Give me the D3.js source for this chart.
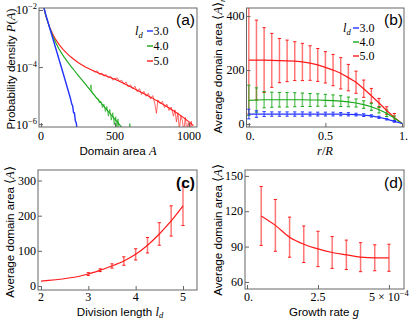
<!DOCTYPE html>
<html><head><meta charset="utf-8">
<script src="https://cdn.jsdelivr.net/npm/d3@7"></script>
<style>body{margin:0;background:#fff}svg{display:block}</style>
</head><body><svg id="c" width="415" height="322"></svg>
<script>
// ---------------- DATA ----------------
const ldLabels = ["3.0", "4.0", "5.0"];

// (a) probability density: [area A, log10 P(A)]
const distLd3 = [[12,-1.62],[20,-1.92],[30,-2.12],[40,-2.3],[60,-2.65],[80,-3.0],[100,-3.35],[120,-3.7],[140,-4.05],[160,-4.4],[180,-4.76],[200,-5.12],[208,-5.3],[214,-5.36],[220,-5.6],[226,-5.6],[232,-5.88],[238,-5.95],[246,-6.25]];
const distLd4 = [[12,-1.62],[20,-1.92],[30,-2.15],[40,-2.33],[60,-2.65],[80,-2.92],[100,-3.15],[120,-3.35],[140,-3.52],[160,-3.68],[180,-3.82],[200,-3.96],[225,-4.12],[250,-4.28],[275,-4.44],[300,-4.6],[325,-4.76],[350,-4.92],[375,-5.08],[400,-5.22],[425,-5.38],[450,-5.53],[475,-5.68],[500,-5.83],[525,-5.98],[550,-6.14]];
const distLd4Noisy = [[300,-4.6],[310,-4.66],[320,-4.72],[330,-4.8],[338,-4.62],[345,-4.88],[355,-4.95],[365,-5.0],[375,-5.1],[385,-5.1],[395,-5.26],[405,-5.2],[415,-5.42],[425,-5.3],[435,-5.56],[445,-5.38],[455,-5.72],[465,-5.48],[475,-5.86],[485,-5.6],[495,-6.02],[505,-5.74],[513,-6.2],[520,-5.82],[528,-6.25]];
const distLd4Tail = [[596,-6.25],[600,-5.98],[604,-6.25]];
const distLd5 = [[12,-1.62],[20,-1.92],[30,-2.15],[40,-2.33],[60,-2.62],[80,-2.85],[100,-3.04],[125,-3.23],[150,-3.39],[175,-3.52],[200,-3.64],[250,-3.84],[300,-4.0],[350,-4.12],[400,-4.23],[450,-4.33],[500,-4.43],[550,-4.55],[600,-4.68],[650,-4.81],[700,-4.94],[750,-5.08],[800,-5.23],[850,-5.38],[900,-5.55],[950,-5.72],[1000,-5.92],[1030,-6.05]];
const distLd5Noisy = [[350,-4.12],[365,-4.18],[380,-4.13],[395,-4.26],[410,-4.21],[425,-4.32],[440,-4.26],[455,-4.38],[470,-4.32],[485,-4.46],[500,-4.4],[515,-4.38],[530,-4.5],[545,-4.46],[560,-4.6],[575,-4.52],[590,-4.7],[605,-4.62],[620,-4.76],[635,-4.67],[650,-4.86],[665,-4.76],[680,-4.96],[695,-4.85],[710,-5.02],[725,-4.92],[740,-5.12],[755,-5.0],[770,-5.3],[780,-5.62],[790,-5.15],[805,-5.28],[820,-5.2],[835,-5.42],[850,-5.3],[865,-5.52],[880,-5.4],[895,-5.72],[905,-5.5],[915,-5.92],[925,-5.6],[935,-6.2],[945,-5.7],[955,-5.88],[965,-6.25],[975,-5.76],[985,-6.25],[995,-5.95],[1005,-6.25],[1015,-5.9],[1025,-6.25]];

// (b) radial profile
const rOverR = [0,0.05,0.1,0.15,0.2,0.25,0.3,0.35,0.4,0.45,0.5,0.55,0.6,0.65,0.7,0.75,0.8,0.85,0.9,0.95,1.0];
const radMeanLd3 = [37,37,37,37,37,37,37,37,37,37,37,37,36.5,36,35,33,30,25,18,10,2];
const radErrLd3  = [18,12,9,8,8,8,8,8,7,7,7,7,6,6,5,5,4,4,3,3,0];
const radMeanLd4 = [88,89,90,90,90,90,90,90,89,89,88,87,85,82,78,72,64,53,40,22,2];
const radErrLd4  = [56,45,30,28,27,27,26,25,24,23,22,21,20,18,15,14,13,12,12,8,0];
const radMeanLd5 = [237,237,237,236,235,234,233,230,226,219,210,200,188,172,155,131,105,78,50,24,2];
const radErrLd5  = [200,148,120,100,82,77,72,69,64,61,58,58,58,49,41,32,27,17,14,15,0];

// (c) vs division length
const divLength = [2,3,3.25,3.5,3.75,4,4.25,4.5,4.75,5];
const divMean   = [14,34,45,57,71,90,116,148,185,228];
const divErr    = [0,4,4,6,12,16,22,32,43,56];

// (d) vs growth rate (units of 1e-4)
const growthRate = [0.5,1,1.5,2,2.5,3,3.5,4,4.5,5];
const growthMean = [116,108,98,92,88,85,83,81,80.5,80.5];
const growthErr  = [25,22,17,15.5,15,13.5,12.5,12.3,11,11.5];

// tick labels
const ticksAx = [0,500,1000], ticksAy = [-2,-4,-6];
const ticksBx = [[0,"0."],[0.5,"0.5"],[1,"1."]], ticksBy = [0,200,400];
const ticksCx = [2,3,4,5], ticksCy = [0,100,200,300];
const ticksDx = [[0,"0."],[2.5,"2.5"]], ticksDy = [60,90,120,150];

// ---------------- STYLE ----------------
const colors = ["#2233ff", "#18a818", "#ff1a1a"];
const SERIF = "'Liberation Serif','Times New Roman',serif";
const SANS = "'Liberation Sans',Arial,sans-serif";
const svg = d3.select("#c");

function frame(x0, x1, y0, y1, id) {
  svg.append("clipPath").attr("id", id).append("rect")
    .attr("x", x0).attr("y", y0).attr("width", x1 - x0).attr("height", y1 - y0);
  return svg.append("g").attr("clip-path", `url(#${id})`);
}
function drawFrame(x0, x1, y0, y1) {
  svg.append("rect").attr("x", x0).attr("y", y0).attr("width", x1 - x0).attr("height", y1 - y0)
    .attr("fill", "none").attr("stroke", "#666").attr("stroke-width", 1);
}
function axes(x, y, xt, yt) {
  const [y0] = y.range();
  const [x0] = x.range();
  const gx = svg.append("g").attr("transform", `translate(0,${y0})`)
    .call(d3.axisBottom(x).tickValues(xt).tickSize(-4).tickFormat(""));
  const gy = svg.append("g").attr("transform", `translate(${x0},0)`)
    .call(d3.axisLeft(y).tickValues(yt).tickSize(-4).tickFormat(""));
  [gx, gy].forEach(g => { g.select(".domain").remove(); g.selectAll("line").attr("stroke", "#666"); });
}
function xLabel(xpos, ybase, txt) {
  svg.append("text").attr("x", xpos).attr("y", ybase).attr("text-anchor", "middle")
    .attr("font-family", SERIF).attr("font-size", 12).text(txt);
}
function yLabel(xright, ypos, txt) {
  svg.append("text").attr("x", xright).attr("y", ypos).attr("text-anchor", "end")
    .attr("dominant-baseline", "central").attr("font-family", SERIF).attr("font-size", 12).text(txt);
}
function rotLabel(xb, yc, parts) {
  const t = svg.append("text").attr("transform", `translate(${xb},${yc}) rotate(-90)`)
    .attr("text-anchor", "middle").attr("font-size", 11.6).attr("font-family", SANS);
  parts.forEach(p => {
    const s = t.append("tspan").text(p.t);
    if (p.it) s.attr("font-family", SERIF).attr("font-style", "italic").attr("font-size", 12.5);
    if (p.serif) s.attr("font-family", SERIF).attr("font-size", 12.5);
    if (p.sub) s.attr("font-family", SERIF).attr("font-style", "italic").attr("font-size", 8.5).attr("dy", 3);
  });
  return t;
}
function panelTag(x, y, txt, bold) {
  svg.append("text").attr("x", x).attr("y", y).attr("text-anchor", "end")
    .attr("font-family", SANS).attr("font-size", 15.5).attr("font-weight", bold ? "bold" : "normal").text(txt);
}
function legend(xl, xs, ys) {
  const lt = svg.append("text").attr("x", xl).attr("y", ys[0] + 4).attr("font-family", SERIF)
    .attr("font-style", "italic").attr("font-size", 12.5);
  lt.append("tspan").text("l");
  lt.append("tspan").attr("font-size", 8.5).attr("dy", 3).text("d");
  ldLabels.forEach((lab, i) => {
    svg.append("line").attr("x1", xs).attr("x2", xs + 6).attr("y1", ys[i]).attr("y2", ys[i])
      .attr("stroke", colors[i]).attr("stroke-width", 1.4);
    svg.append("text").attr("x", xs + 6.5).attr("y", ys[i]).attr("dominant-baseline", "central")
      .attr("font-family", SERIF).attr("font-size", 12).text(lab);
  });
}
function errorBars(g, xs, ms, es, x, y, color) {
  xs.forEach((xv, i) => {
    if (!es[i]) return;
    const px = x(xv), top = y(ms[i] + es[i]), bot = y(ms[i] - es[i]);
    g.append("line").attr("x1", px).attr("x2", px).attr("y1", top).attr("y2", bot)
      .attr("stroke", color).attr("stroke-width", 1.5).attr("stroke-opacity", 0.6);
    [top, bot].forEach(py => g.append("line").attr("x1", px - 1.6).attr("x2", px + 1.6)
      .attr("y1", py).attr("y2", py).attr("stroke", color).attr("stroke-width", 1));
  });
}

// ---------------- (a) ----------------
{
  const x = d3.scaleLinear().domain([-13.5, 1054]).range([39, 197]);
  const y = d3.scaleLog().domain([Math.pow(10, -6.1), Math.pow(10, -1.93)]).range([127, 8]);
  const g = frame(39, 197, 8, 127, "ca");
  const line = d3.line().x(d => x(d[0])).y(d => y(Math.pow(10, d[1])));
  const draw = (data, c, op, w) => g.append("path").datum(data).attr("d", line).attr("fill", "none")
    .attr("stroke", c).attr("stroke-width", w).attr("stroke-opacity", op).attr("stroke-linejoin", "round");
  draw(distLd5Noisy, colors[2], 0.65, 1);
  draw(distLd5, colors[2], 1, 1.1);
  draw(distLd4Noisy, colors[1], 0.7, 1);
  draw(distLd4Tail, colors[1], 0.7, 1);
  draw(distLd4, colors[1], 1, 1.1);
  draw(distLd3, colors[0], 1, 1.4);
  drawFrame(39, 197, 8, 127);
  axes(x, y, ticksAx, ticksAy.map(v => Math.pow(10, v)));
  ticksAx.forEach(v => xLabel(x(v), 139.5, v));
  ticksAy.forEach(v => {
    const t = svg.append("text").attr("x", 37).attr("y", y(Math.pow(10, v)) + 4.5).attr("text-anchor", "end")
      .attr("font-family", SERIF).attr("font-size", 12);
    t.append("tspan").text("10");
    t.append("tspan").attr("font-size", 8.5).attr("dy", -5).text("\u2212" + Math.abs(v));
  });
  const xl = svg.append("text").attr("x", 118).attr("y", 154.5).attr("text-anchor", "middle")
    .attr("font-family", SANS).attr("font-size", 11.6);
  xl.append("tspan").text("Domain area ");
  xl.append("tspan").attr("font-family", SERIF).attr("font-style", "italic").attr("font-size", 12.5).text("A");
  rotLabel(15, 69, [{t: "Probability density "}, {t: "P", it: 1}, {t: "(", serif: 1}, {t: "A", it: 1}, {t: ")", serif: 1}]);
  panelTag(195, 25, "(a)");
  legend(135, 147, [31, 46, 61]);
}

// ---------------- (b) ----------------
{
  const x = d3.scaleLinear().domain([-0.015, 1.013]).range([246.5, 404]);
  const y = d3.scaleLinear().domain([-11, 430]).range([127, 8]);
  const g = frame(246.5, 404, 8, 127, "cb");
  const sets = [[radMeanLd3, radErrLd3], [radMeanLd4, radErrLd4], [radMeanLd5, radErrLd5]];
  const line = d3.line().x((d, i) => x(rOverR[i])).y(d => y(d));
  [2, 1, 0].forEach(k => errorBars(g, rOverR, sets[k][0], sets[k][1], x, y, colors[k]));
  [2, 1, 0].forEach(k => g.append("path").datum(sets[k][0]).attr("d", line).attr("fill", "none")
    .attr("stroke", colors[k]).attr("stroke-width", 1.2));
  drawFrame(246.5, 404, 8, 127);
  axes(x, y, ticksBx.map(d => d[0]), ticksBy);
  ticksBx.forEach(d => svg.append("text").attr("x", x(d[0]) + (d[1].endsWith(".") ? 1.5 : 0)).attr("y", 139.5)
    .attr("text-anchor", "middle").attr("font-family", SERIF).attr("font-size", 12).text(d[1]));
  ticksBy.forEach(v => yLabel(244.5, y(v), v));
  const xl = svg.append("text").attr("x", 325).attr("y", 154.5).attr("text-anchor", "middle")
    .attr("font-family", SERIF).attr("font-style", "italic").attr("font-size", 12.5);
  xl.append("tspan").text("r");
  xl.append("tspan").attr("font-style", "normal").text("/");
  xl.append("tspan").text("R");
  rotLabel(222, 66, [{t: "Average domain area "}, {t: "\u27E8", serif: 1}, {t: "A", it: 1}, {t: "\u27E9", serif: 1}, {t: "r", sub: 1}]);
  panelTag(403, 25, "(b)");
  legend(343, 353, [28, 42, 56]);
}

// ---------------- (c) ----------------
{
  const x = d3.scaleLinear().domain([1.937, 5.296]).range([38, 197]);
  const y = d3.scaleLinear().domain([-11.4, 330]).range([290, 170]);
  const g = frame(38, 197, 170, 290, "cc");
  errorBars(g, divLength, divMean, divErr, x, y, colors[2]);
  g.append("path").datum(divMean).attr("d", d3.line().x((d, i) => x(divLength[i])).y(d => y(d)).curve(d3.curveMonotoneX))
    .attr("fill", "none").attr("stroke", colors[2]).attr("stroke-width", 1.2);
  drawFrame(38, 197, 170, 290);
  axes(x, y, ticksCx, ticksCy);
  ticksCx.forEach(v => xLabel(x(v), 301, v));
  ticksCy.forEach(v => yLabel(36, y(v), v));
  const xl = svg.append("text").attr("x", 120).attr("y", 315.5).attr("text-anchor", "middle")
    .attr("font-family", SANS).attr("font-size", 11.6);
  xl.append("tspan").text("Division length ");
  xl.append("tspan").attr("font-family", SERIF).attr("font-style", "italic").attr("font-size", 12.5).text("l");
  xl.append("tspan").attr("font-family", SERIF).attr("font-style", "italic").attr("font-size", 8.5).attr("dy", 2.5).text("d");
  rotLabel(14, 232, [{t: "Average domain area "}, {t: "\u27E8", serif: 1}, {t: "A", it: 1}, {t: "\u27E9", serif: 1}]);
  panelTag(195, 188, "(c)", true);
}

// ---------------- (d) ----------------
{
  const x = d3.scaleLinear().domain([-0.07, 5.53]).range([245, 404]);
  const y = d3.scaleLinear().domain([54, 155]).range([289, 170]);
  const g = frame(245, 404, 170, 289, "cd");
  errorBars(g, growthRate, growthMean, growthErr, x, y, colors[2]);
  g.append("path").datum(growthMean).attr("d", d3.line().x((d, i) => x(growthRate[i])).y(d => y(d)).curve(d3.curveMonotoneX))
    .attr("fill", "none").attr("stroke", colors[2]).attr("stroke-width", 1.2);
  drawFrame(245, 404, 170, 289);
  axes(x, y, [0, 2.5, 5], ticksDy);
  ticksDx.forEach(d => svg.append("text").attr("x", x(d[0]) + (d[1].endsWith(".") ? 1.5 : 0)).attr("y", 301)
    .attr("text-anchor", "middle").attr("font-family", SERIF).attr("font-size", 12).text(d[1]));
  const t5 = svg.append("text").attr("x", x(5)).attr("y", 301).attr("text-anchor", "middle")
    .attr("font-family", SERIF).attr("font-size", 12);
  t5.append("tspan").text("5 \u00D7 10");
  t5.append("tspan").attr("font-size", 8.5).attr("dy", -5).text("\u22124");
  ticksDy.forEach(v => yLabel(243, y(v), v));
  const xl = svg.append("text").attr("x", 324).attr("y", 315.5).attr("text-anchor", "middle")
    .attr("font-family", SANS).attr("font-size", 11.6);
  xl.append("tspan").text("Growth rate ");
  xl.append("tspan").attr("font-family", SERIF).attr("font-style", "italic").attr("font-size", 12.5).text("g");
  rotLabel(222, 230, [{t: "Average domain area "}, {t: "\u27E8", serif: 1}, {t: "A", it: 1}, {t: "\u27E9", serif: 1}]);
  panelTag(403, 188, "(d)");
}
</script></body></html>
